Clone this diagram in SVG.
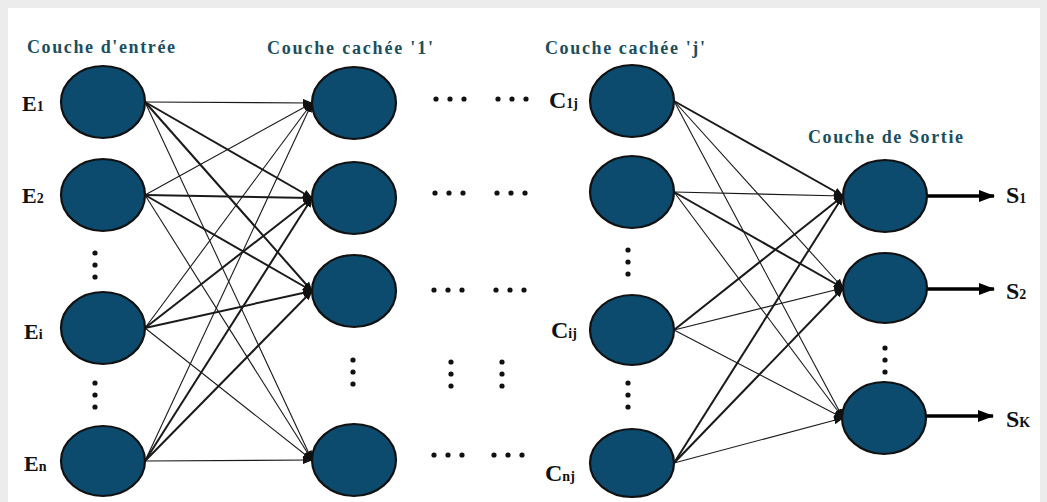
<svg xmlns="http://www.w3.org/2000/svg" width="1047" height="502" viewBox="0 0 1047 502">
<style>
.title{font-family:"Liberation Serif","Times New Roman",serif;font-weight:bold;font-size:18px;fill:#1b4f5e}
.lbl{font-family:"Liberation Serif","Times New Roman",serif;font-weight:bold;fill:#111}
.big{font-size:22px}
.bigc{font-size:24px}
.sub{font-size:14px}
.node{fill:#0c4a6e;stroke:#111;stroke-width:2.2}
.w{stroke:#1a1a1a;stroke-width:1.1;fill:none}
.t{stroke:#1a1a1a;stroke-width:2;fill:none}
.out{stroke:#000;stroke-width:3.4;fill:none}
.dot{fill:#111}
</style>
<defs>
<marker id="ah" markerUnits="userSpaceOnUse" markerWidth="10" markerHeight="8" refX="9" refY="4" orient="auto">
<path d="M0,0 L10,4 L0,8 z" fill="#111"/>
</marker>
<marker id="ahb" markerUnits="userSpaceOnUse" markerWidth="16" markerHeight="12" refX="15" refY="6" orient="auto">
<path d="M0,0 L16,6 L0,12 z" fill="#000"/>
</marker>
</defs>
<rect x="0" y="0" width="1047" height="502" fill="#ececec"/>
<rect x="8" y="8" width="1032" height="494" fill="#ffffff"/>

<g id="titles">
<text class="title" x="27" y="53" textLength="148" lengthAdjust="spacing">Couche d'entrée</text>
<text class="title" x="267" y="54" textLength="166" lengthAdjust="spacing">Couche cachée '1'</text>
<text class="title" x="545" y="54" textLength="160" lengthAdjust="spacing">Couche cachée 'j'</text>
<text class="title" x="808" y="143" textLength="155" lengthAdjust="spacing">Couche de Sortie</text>
</g>

<g id="connectors">
<line class="w" x1="145" y1="102" x2="312" y2="103" marker-end="url(#ah)"/>
<line class="t" x1="145" y1="102" x2="312" y2="198" marker-end="url(#ah)"/>
<line class="t" x1="145" y1="102" x2="312" y2="291" marker-end="url(#ah)"/>
<line class="w" x1="145" y1="102" x2="312" y2="460" marker-end="url(#ah)"/>
<line class="w" x1="145" y1="195" x2="312" y2="103" marker-end="url(#ah)"/>
<line class="t" x1="145" y1="195" x2="312" y2="198" marker-end="url(#ah)"/>
<line class="t" x1="145" y1="195" x2="312" y2="291" marker-end="url(#ah)"/>
<line class="w" x1="145" y1="195" x2="312" y2="460" marker-end="url(#ah)"/>
<line class="w" x1="145" y1="328" x2="312" y2="103" marker-end="url(#ah)"/>
<line class="t" x1="145" y1="328" x2="312" y2="198" marker-end="url(#ah)"/>
<line class="t" x1="145" y1="328" x2="312" y2="291" marker-end="url(#ah)"/>
<line class="w" x1="145" y1="328" x2="312" y2="460" marker-end="url(#ah)"/>
<line class="w" x1="145" y1="461" x2="312" y2="103" marker-end="url(#ah)"/>
<line class="t" x1="145" y1="461" x2="312" y2="198" marker-end="url(#ah)"/>
<line class="t" x1="145" y1="461" x2="312" y2="291" marker-end="url(#ah)"/>
<line class="w" x1="145" y1="461" x2="312" y2="460" marker-end="url(#ah)"/>
<line class="t" x1="674" y1="101" x2="843" y2="196" marker-end="url(#ah)"/>
<line class="w" x1="674" y1="101" x2="843" y2="288" marker-end="url(#ah)"/>
<line class="w" x1="674" y1="101" x2="843" y2="418" marker-end="url(#ah)"/>
<line class="w" x1="674" y1="192" x2="843" y2="196" marker-end="url(#ah)"/>
<line class="t" x1="674" y1="192" x2="843" y2="288" marker-end="url(#ah)"/>
<line class="w" x1="674" y1="192" x2="843" y2="418" marker-end="url(#ah)"/>
<line class="t" x1="674" y1="330" x2="843" y2="196" marker-end="url(#ah)"/>
<line class="w" x1="674" y1="330" x2="843" y2="288" marker-end="url(#ah)"/>
<line class="w" x1="674" y1="330" x2="843" y2="418" marker-end="url(#ah)"/>
<line class="t" x1="674" y1="463" x2="843" y2="196" marker-end="url(#ah)"/>
<line class="t" x1="674" y1="463" x2="843" y2="288" marker-end="url(#ah)"/>
<line class="w" x1="674" y1="463" x2="843" y2="418" marker-end="url(#ah)"/>
<line class="out" x1="927" y1="196" x2="994" y2="196" marker-end="url(#ahb)"/>
<line class="out" x1="927" y1="289" x2="994" y2="289" marker-end="url(#ahb)"/>
<line class="out" x1="926" y1="416" x2="993" y2="416" marker-end="url(#ahb)"/>
</g>

<g id="E1"><ellipse class="node" cx="103" cy="102" rx="42" ry="36"/><text class="lbl big" x="22" y="111">E<tspan class="sub">1</tspan></text></g>
<g id="E2"><ellipse class="node" cx="103" cy="195" rx="42" ry="36"/><text class="lbl big" x="22" y="203">E<tspan class="sub">2</tspan></text></g>
<g id="Ei"><ellipse class="node" cx="103" cy="328" rx="42" ry="36"/><text class="lbl big" x="24" y="339">E<tspan class="sub">i</tspan></text></g>
<g id="En"><ellipse class="node" cx="103" cy="461" rx="42" ry="35"/><text class="lbl big" x="24" y="471">E<tspan class="sub">n</tspan></text></g>

<g id="H1"><ellipse class="node" cx="354" cy="103" rx="42" ry="36"/></g>
<g id="H2"><ellipse class="node" cx="354" cy="198" rx="42" ry="36"/></g>
<g id="H3"><ellipse class="node" cx="354" cy="291" rx="42" ry="36"/></g>
<g id="H5"><ellipse class="node" cx="354" cy="460" rx="42" ry="36"/></g>

<g id="C1j"><ellipse class="node" cx="632" cy="101" rx="42" ry="36"/><text class="lbl bigc" x="549" y="108">C<tspan class="sub">1j</tspan></text></g>
<g id="C2j"><ellipse class="node" cx="632" cy="192" rx="42" ry="36"/></g>
<g id="Cij"><ellipse class="node" cx="632" cy="330" rx="42" ry="35"/><text class="lbl bigc" x="551" y="338">C<tspan class="sub">ij</tspan></text></g>
<g id="Cnj"><ellipse class="node" cx="632" cy="463" rx="42" ry="34"/><text class="lbl bigc" x="545" y="481">C<tspan class="sub">nj</tspan></text></g>

<g id="S1"><ellipse class="node" cx="885" cy="196" rx="42" ry="36"/><text class="lbl bigc" x="1006" y="203">S<tspan class="sub">1</tspan></text></g>
<g id="S2"><ellipse class="node" cx="885" cy="288" rx="42" ry="35"/><text class="lbl bigc" x="1006" y="299">S<tspan class="sub">2</tspan></text></g>
<g id="Sk"><ellipse class="node" cx="884" cy="418" rx="42" ry="36"/><text class="lbl bigc" x="1006" y="427">S<tspan class="sub">K</tspan></text></g>

<g id="ellipses">
<circle class="dot" cx="95" cy="253" r="2.6"/><circle class="dot" cx="95" cy="265" r="2.6"/><circle class="dot" cx="95" cy="277" r="2.6"/>
<circle class="dot" cx="95" cy="383" r="2.6"/><circle class="dot" cx="95" cy="395" r="2.6"/><circle class="dot" cx="95" cy="407" r="2.6"/>
<circle class="dot" cx="353" cy="360" r="2.6"/><circle class="dot" cx="353" cy="372" r="2.6"/><circle class="dot" cx="353" cy="384" r="2.6"/>
<circle class="dot" cx="451" cy="362" r="2.6"/><circle class="dot" cx="451" cy="374" r="2.6"/><circle class="dot" cx="451" cy="386" r="2.6"/>
<circle class="dot" cx="502" cy="362" r="2.6"/><circle class="dot" cx="502" cy="374" r="2.6"/><circle class="dot" cx="502" cy="386" r="2.6"/>
<circle class="dot" cx="628" cy="250" r="2.6"/><circle class="dot" cx="628" cy="262" r="2.6"/><circle class="dot" cx="628" cy="274" r="2.6"/>
<circle class="dot" cx="628" cy="383" r="2.6"/><circle class="dot" cx="628" cy="395" r="2.6"/><circle class="dot" cx="628" cy="407" r="2.6"/>
<circle class="dot" cx="885" cy="348" r="2.6"/><circle class="dot" cx="885" cy="360" r="2.6"/><circle class="dot" cx="885" cy="372" r="2.6"/>
<circle class="dot" cx="436" cy="99" r="2.6"/><circle class="dot" cx="450" cy="99" r="2.6"/><circle class="dot" cx="464" cy="99" r="2.6"/>
<circle class="dot" cx="498" cy="99" r="2.6"/><circle class="dot" cx="512" cy="99" r="2.6"/><circle class="dot" cx="526" cy="99" r="2.6"/>
<circle class="dot" cx="435" cy="193" r="2.6"/><circle class="dot" cx="449" cy="193" r="2.6"/><circle class="dot" cx="463" cy="193" r="2.6"/>
<circle class="dot" cx="497" cy="193" r="2.6"/><circle class="dot" cx="511" cy="193" r="2.6"/><circle class="dot" cx="525" cy="193" r="2.6"/>
<circle class="dot" cx="434" cy="290" r="2.6"/><circle class="dot" cx="448" cy="290" r="2.6"/><circle class="dot" cx="462" cy="290" r="2.6"/>
<circle class="dot" cx="496" cy="290" r="2.6"/><circle class="dot" cx="510" cy="290" r="2.6"/><circle class="dot" cx="524" cy="290" r="2.6"/>
<circle class="dot" cx="434" cy="455" r="2.6"/><circle class="dot" cx="448" cy="455" r="2.6"/><circle class="dot" cx="462" cy="455" r="2.6"/>
<circle class="dot" cx="494" cy="455" r="2.6"/><circle class="dot" cx="508" cy="455" r="2.6"/><circle class="dot" cx="522" cy="455" r="2.6"/>
</g>
</svg>
